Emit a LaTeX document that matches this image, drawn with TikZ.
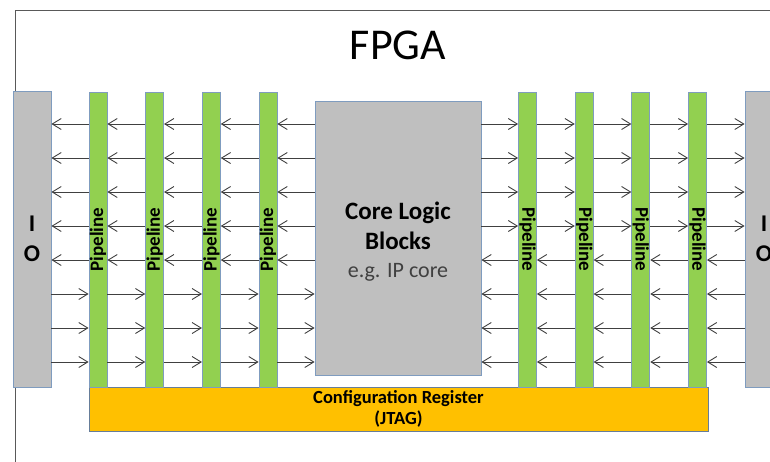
\documentclass[tikz,border=0pt]{standalone}
\usepackage{fontspec}
\setmainfont{Carlito}
\usetikzlibrary{arrows.meta}
\definecolor{boxgray}{HTML}{BFBFBF}
\definecolor{edgeblue}{HTML}{7F9CBF}
\definecolor{pipegreen}{HTML}{92D050}
\definecolor{regyellow}{HTML}{FFC000}
\definecolor{wiregray}{HTML}{404040}
\definecolor{notegray}{HTML}{404040}
\tikzset{
  blk/.style={draw=edgeblue, line width=0.8pt, inner sep=0pt, align=center},
  iobox/.style={blk, fill=boxgray, minimum width=38, minimum height=296,
    font=\fontsize{24}{30}\selectfont\bfseries},
  pipe/.style={blk, fill=pipegreen, minimum width=18, minimum height=295},
  pipelbl/.style={inner sep=0pt, font=\fontsize{19}{19}\selectfont\bfseries},
  wire/.style={draw=wiregray, line width=0.9pt,
    -{Straight Barb[length=9pt,width=11pt]}},
}
\begin{document}
\begin{tikzpicture}[x=1pt,y=-1pt]
      \clip (0,0) rectangle (770,461);
      \draw[black!65, line width=0.9pt] (15,520) -- (15,10) -- (800,10);
      \node[font=\fontsize{44}{44}\selectfont] (title) at (398,45) {FPGA};
      \node[iobox] (ioL) at (32,239) {I\\O};
      \node[iobox] (ioR) at (764,239) {I\\O};
      \node[blk, fill=regyellow, draw=edgeblue!80!black, minimum width=619, minimum height=44,
        font=\fontsize{18.5}{21}\selectfont\bfseries] (cfg) at (398.5,409)
        {Configuration Register\\(JTAG)};
      \foreach \i in {1,...,4} {
        \node[pipe] (pl\i) at (98+56.67*\i-56.67,239.5) {};
        \node[pipelbl, rotate=90] (pl\i-lbl) at (pl\i) {Pipeline};
        \node[pipe] (pr\i) at (527.5+56.67*\i-56.67,239.5) {};
        \node[pipelbl, rotate=-90] (pr\i-lbl) at (pr\i) {Pipeline};
      }
      \node[blk, fill=boxgray, minimum width=166, minimum height=274] (core) at (398,238) {};
      \node[align=center, inner sep=0pt, font=\fontsize{25}{30}\selectfont\bfseries]
        (core-lbl) at (398,242)
        {Core Logic\\Blocks\\[-2pt]{\fontsize{22}{26}\selectfont\mdseries\color{notegray}e.g. IP core}};
      \foreach \k in {1,...,8}
        \coordinate (r\k) at (0,90+34*\k);
      \foreach \a/\b in {ioL/pl1,pl1/pl2,pl2/pl3,pl3/pl4,pl4/core} {
        \foreach \k in {1,...,5}
          \draw[wire] (\b.west |- r\k) -- (\a.east |- r\k);
        \foreach \k in {6,7,8}
          \draw[wire] (\a.east |- r\k) -- (\b.west |- r\k);
      }
      \foreach \a/\b in {core/pr1,pr1/pr2,pr2/pr3,pr3/pr4,pr4/ioR} {
        \foreach \k in {1,...,4}
          \draw[wire] (\a.east |- r\k) -- (\b.west |- r\k);
        \foreach \k in {5,...,8}
          \draw[wire] (\b.west |- r\k) -- (\a.east |- r\k);
      }
   \end{tikzpicture}
\end{document}
